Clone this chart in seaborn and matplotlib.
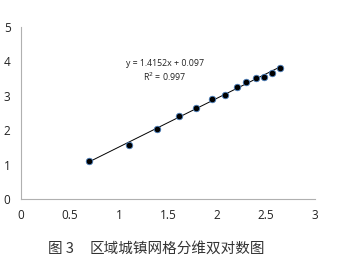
import matplotlib
matplotlib.use("Agg")
import matplotlib.pyplot as plt
import seaborn as sns
import numpy as np
import pandas as pd

ln_r = [0.69, 1.10, 1.39, 1.61, 1.79, 1.95, 2.08, 2.20, 2.30, 2.40, 2.48, 2.56, 2.64]
ln_n = [1.10, 1.57, 2.03, 2.42, 2.65, 2.90, 3.03, 3.26, 3.39, 3.51, 3.56, 3.67, 3.80]
slope = 1.4152
intercept = 0.097
x_ticks = [0, 0.5, 1, 1.5, 2, 2.5, 3]
x_tick_labels = ["0", "0.5", "1", "1.5", "2", "2.5", "3"]
y_ticks = [0, 1, 2, 3, 4, 5]
equation = "y = 1.4152x + 0.097"
r2_text = "R$^2$ = 0.997"
caption_fig = "图 3"
caption_title = "区域城镇网格分维双对数图"

sns.set_theme(style="white")
plt.rcParams['font.family'] = ['Open Sans', 'Noto Sans CJK SC', 'DejaVu Sans']

df = pd.DataFrame({"x": ln_r, "y": ln_n})
fit_x = np.array([min(ln_r), max(ln_r)])
fit = pd.DataFrame({"x": fit_x, "y": slope * fit_x + intercept})

fig = plt.figure(figsize=(3.39, 2.64), dpi=100)
ax = fig.add_axes([0.062, 0.246, 0.867, 0.652])

sns.lineplot(data=fit, x="x", y="y", ax=ax, color="black", linewidth=0.7)
sns.scatterplot(data=df, x="x", y="y", ax=ax, color="black", s=22,
                edgecolor="#4a7ebb", linewidth=0.6, zorder=3)

ax.set_xlim(0, 3)
ax.set_ylim(0, 5)
ax.set_xticks(x_ticks)
ax.set_xticklabels(x_tick_labels)
ax.set_yticks(y_ticks)
ax.set_xlabel("")
ax.set_ylabel("")
for s in ["top", "right"]:
    ax.spines[s].set_visible(False)
for s in ["left", "bottom"]:
    ax.spines[s].set_color("#b0b0b0")
    ax.spines[s].set_linewidth(0.8)
ax.tick_params(axis="both", which="major", length=2.5, width=0.8, color="#b0b0b0",
               labelsize=8.5, labelcolor="#222222")
ax.tick_params(axis="x", pad=5)
ax.tick_params(axis="y", pad=5)

ax.text(1.47, 3.95, equation, fontsize=6.3, ha="center", va="center", color="#222222")
ax.text(1.47, 3.55, r2_text, fontsize=6.3, ha="center", va="center", color="#222222")

fig.text(48 / 339, 1 - 249 / 264, caption_fig, fontsize=10.5, ha="left", va="center",
         color="#333333", family=['Noto Sans CJK SC', 'DejaVu Sans'])
fig.text(90 / 339, 1 - 249 / 264, caption_title, fontsize=10.5, ha="left", va="center",
         color="#333333", family=['Noto Sans CJK SC', 'DejaVu Sans'])

fig.savefig("out.png", dpi=100)
